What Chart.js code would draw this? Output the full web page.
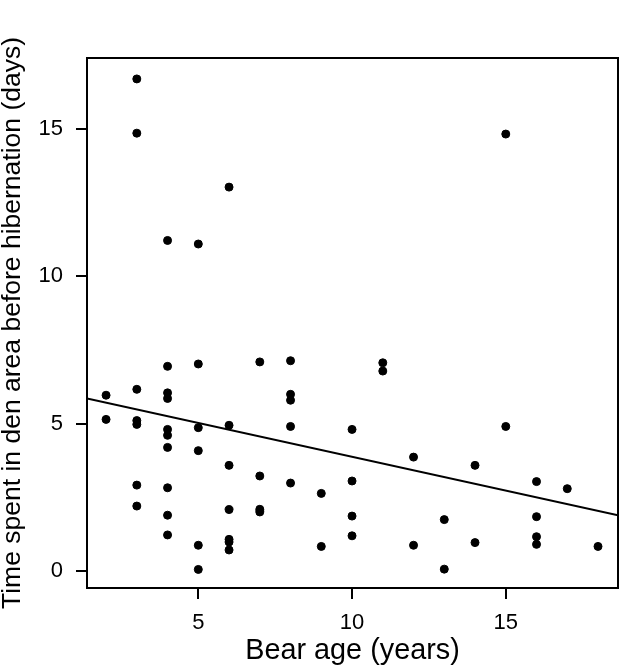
<!DOCTYPE html>
<html>
<head>
<meta charset="utf-8">
<script src="https://cdn.jsdelivr.net/npm/chart.js@4/dist/chart.umd.min.js"></script>
<style>
    html, body { margin: 0; padding: 0; background: #fff; }
</style>
</head>
<body>
<canvas id="graph1" width="623" height="671"></canvas>
<script>
// Bear age (years) and days spent in den area
const ageX = [
    2, 2,
    3, 3, 3, 3, 3, 3, 3,
    4, 4, 4, 4, 4, 4, 4, 4, 4, 4,
    5, 5, 5, 5, 5, 5,
    6, 6, 6, 6, 6, 6, 6,
    7, 7, 7, 7,
    8, 8, 8, 8, 8,
    9, 9,
    10, 10, 10, 10,
    11, 11,
    12, 12,
    13, 13,
    14, 14,
    15, 15,
    16, 16, 16, 16,
    17,
    18
];
const denDays = [
    5.96, 5.14,
    16.69, 14.85, 6.16, 5.10, 4.97, 2.91, 2.20,
    11.21, 6.94, 6.04, 5.85, 4.80, 4.60, 4.19, 2.82, 1.89, 1.22,
    11.09, 7.02, 4.86, 4.08, 0.87, 0.05,
    13.02, 4.94, 3.58, 2.08, 1.07, 0.98, 0.71,
    7.09, 3.22, 2.09, 2.00,
    7.13, 5.99, 5.79, 4.90, 2.98,
    2.63, 0.83,
    4.80, 3.05, 1.86, 1.19,
    7.06, 6.78,
    3.86, 0.87,
    1.74, 0.06,
    3.58, 0.96,
    14.82, 4.90,
    3.03, 1.84, 1.16, 0.90,
    2.79,
    0.83
];

// regression line end points (at the plot edges)
const fitX = [1.38, 18.65];
const fitY = [5.85, 1.89];

const xTicks = [5, 10, 15];
const yTicks = [0, 5, 10, 15];

const FONT = 'Liberation Sans, Arial, sans-serif';

// draws the full box round the plot area
const boxPlugin = {
    id: 'box',
    afterDraw(chart) {
        const a = chart.chartArea;
        const ctx = chart.ctx;
        ctx.save();
        ctx.strokeStyle = '#000';
        ctx.lineWidth = 2;
        ctx.strokeRect(a.left, a.top, a.right - a.left, a.bottom - a.top);
        ctx.restore();
    }
};

const ctx = document.getElementById('graph1');
const myChart = new Chart(ctx, {
    data: {
        datasets: [
            {
                type: 'scatter',
                data: ageX.map((x, i) => ({x: x, y: denDays[i]})),
                backgroundColor: '#000',
                borderColor: '#000',
                pointRadius: 4,
                pointHoverRadius: 4
            },
            {
                type: 'line',
                data: fitX.map((x, i) => ({x: x, y: fitY[i]})),
                borderColor: '#000',
                borderWidth: 2,
                pointRadius: 0,
                fill: false
            }
        ]
    },
    options: {
        responsive: false,
        animation: false,
        layout: {
            padding: { top: 58, right: 5, left: 0, bottom: 0 }
        },
        scales: {
            x: {
                type: 'linear',
                min: 1.38,
                max: 18.65,
                afterBuildTicks: (s) => { s.ticks = xTicks.map(v => ({value: v})); },
                afterFit: (s) => { s.height = 83; },
                border: { display: false },
                grid: {
                    drawOnChartArea: false,
                    color: '#000',
                    lineWidth: 2,
                    tickLength: 11
                },
                ticks: {
                    color: '#000',
                    font: { family: FONT, size: 22 },
                    padding: 11,
                    maxRotation: 0
                },
                title: {
                    display: true,
                    text: 'Bear age (years)',
                    color: '#000',
                    font: { family: FONT, size: 28.8 },
                    padding: { top: 0, bottom: 3 }
                }
            },
            y: {
                type: 'linear',
                min: -0.58,
                max: 17.4,
                afterBuildTicks: (s) => { s.ticks = yTicks.map(v => ({value: v})); },
                afterFit: (s) => { s.width = 87; },
                border: { display: false },
                grid: {
                    drawOnChartArea: false,
                    color: '#000',
                    lineWidth: 2,
                    tickLength: 11
                },
                ticks: {
                    color: '#000',
                    font: { family: FONT, size: 22 },
                    padding: 13
                },
                title: {
                    display: true,
                    text: 'Time spent in den area before hibernation (days)',
                    color: '#000',
                    font: { family: FONT, size: 26.5 },
                    padding: { top: -3, bottom: 0 }
                }
            }
        },
        plugins: {
            legend: { display: false },
            tooltip: { enabled: false }
        }
    },
    plugins: [boxPlugin]
});
</script>
</body>
</html>
